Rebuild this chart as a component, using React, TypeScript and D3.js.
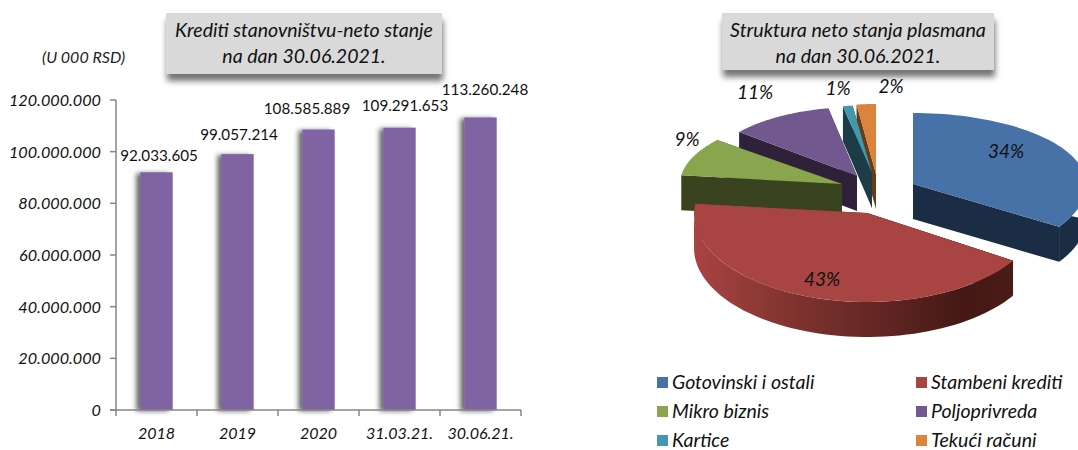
import React from "react";
import * as d3 from "d3";

const barCategories = ["2018", "2019", "2020", "31.03.21.", "30.06.21."];
const barValues = [92033605, 99057214, 108585889, 109291653, 113260248];
const barTicks = [0, 20000000, 40000000, 60000000, 80000000, 100000000, 120000000];

const pieNames = ["Gotovinski i ostali", "Stambeni krediti", "Mikro biznis", "Poljoprivreda", "Kartice", "Tekući računi"];
const pieValues = [34, 43, 9, 11, 1, 2];
const pieColors = ["#4672a8", "#a84442", "#89a54e", "#71588f", "#4198af", "#db843d"];
const pieWalls = ["#1b2d45", "#4a1c18", "#3a431f", "#2e2139", "#1c3d47", "#6a3a12"];

const FONT = "Lato, 'Open Sans', sans-serif";
const fmt = (v: number) => d3.format(",")(v).replace(/,/g, ".");

// slice geometry: apex position and radii after the explosion
const sliceGeom = [
  { cx: 913, cy: 184, rx: 173, back: 71, front: 80 },
  { cx: 867, cy: 213, rx: 173, back: 72, front: 89 },
  { cx: 842, cy: 184, rx: 162, back: 69, front: 69 },
  { cx: 857, cy: 176, rx: 153, back: 69, front: 69 },
  { cx: 872, cy: 173, rx: 155, back: 68, front: 68 },
  { cx: 876, cy: 174, rx: 155, back: 70, front: 70 },
];
const DEPTH = 35;

type G = (typeof sliceGeom)[number];
const pt = (g: G, a: number): [number, number] => {
  const c = Math.cos(a);
  return [g.cx + g.rx * Math.sin(a), g.cy - c * (c > 0 ? g.back : g.front)];
};
const arcPts = (g: G, a0: number, a1: number) =>
  d3.range(0, 61).map((i) => pt(g, a0 + ((a1 - a0) * i) / 60));
const line = d3.line();

function Slice({ i, a0, a1 }: { i: number; a0: number; a1: number }) {
  const g = sliceGeom[i];
  const apex: [number, number] = [g.cx, g.cy];
  const down = (p: [number, number]): [number, number] => [p[0], p[1] + DEPTH];
  const top = [apex, ...arcPts(g, a0, a1)] as [number, number][];
  const wall = (p: [number, number]) => line([apex, p, down(p), down(apex)] as [number, number][]) + "Z";
  const lo = Math.max(a0, Math.PI / 2);
  const hi = Math.min(a1, (3 * Math.PI) / 2);
  const outer = hi > lo ? arcPts(g, lo, hi) : null;
  const outerFill = i === 1 ? "url(#redWall)" : pieWalls[i];
  return (
    <g>
      <path d={wall(pt(g, a0))} fill={outerFill} />
      <path d={wall(pt(g, a1))} fill={outerFill} />
      {outer && (
        <path
          d={line([apex, ...outer, ...outer.slice().reverse().map(down)] as [number, number][]) + "Z"}
          fill={outerFill}
        />
      )}
      <path d={line(top) + "Z"} fill={pieColors[i]} />
    </g>
  );
}

function TitleBox({ x, y, w, h, size, lines }: { x: number; y: number; w: number; h: number; size: number; lines: string[] }) {
  return (
    <g>
      <rect x={x} y={y} width={w} height={h} fill="#d9d9d9" filter="url(#boxShadow)" />
      {lines.map((t, i) => (
        <text key={i} x={x + w / 2} y={y + 24 + i * 26} textAnchor="middle" fontSize={size} fontStyle="italic" fill="#111">
          {t}
        </text>
      ))}
    </g>
  );
}

const pieLabels = [
  { x: 1006, y: 158 },
  { x: 822, y: 286 },
  { x: 687, y: 146 },
  { x: 755, y: 99 },
  { x: 838, y: 95 },
  { x: 891, y: 93 },
];
const barLabelX = [159, 239, 307, 405, 485];
const barLabelLift = [11.5, 14.5, 15, 17, 22.5];

export default function App() {
  const x = d3.scaleBand<string>().domain(barCategories).range([116, 521]).paddingInner(0.6).paddingOuter(0.3);
  const y = d3.scaleLinear().domain([0, 120000000]).range([410, 100]);
  const axis = "#868686";
  const step = x.step();
  const arcs = d3.pie<number>().sort(null)(pieValues);
  const drawOrder = [5, 4, 3, 2, 0, 1];
  const legendCols = [657, 916];
  const legendRows = [384, 413, 442];

  return (
    <svg
      width={1078}
      height={450}
      style={{ position: "absolute", left: 0, top: 0, background: "#fff", overflow: "hidden" }}
      fontFamily={FONT}
    >
      <defs>
        <filter id="boxShadow" x="-10%" y="-20%" width="120%" height="150%">
          <feDropShadow dx="1" dy="7" stdDeviation="3" floodColor="#000" floodOpacity="0.55" />
        </filter>
        <filter id="barShadow" x="-50%" y="-5%" width="160%" height="110%">
          <feDropShadow dx="-4" dy="1" stdDeviation="2.5" floodColor="#000" floodOpacity="0.6" />
        </filter>
        <linearGradient id="redWall" gradientUnits="userSpaceOnUse" x1={696} x2={1014} y1={0} y2={0}>
          <stop offset="0" stopColor="#a84442" />
          <stop offset="0.3" stopColor="#80332f" />
          <stop offset="0.6" stopColor="#5f2522" />
          <stop offset="0.85" stopColor="#441814" />
          <stop offset="1" stopColor="#4a1c18" />
        </linearGradient>
      </defs>

      <TitleBox x={166} y={13} w={276} h={61} size={19.5} lines={["Krediti stanovništvu-neto stanje", "na dan 30.06.2021."]} />
      <TitleBox x={722} y={13} w={272} h={57} size={19.7} lines={["Struktura neto stanja plasmana", "na dan 30.06.2021."]} />
      <text x={42} y={63} fontSize={16} fontStyle="italic" fill="#222">(U 000 RSD)</text>

      {barValues.map((v, i) => (
        <rect
          key={i}
          x={x(barCategories[i])}
          y={y(v)}
          width={x.bandwidth()}
          height={y(0) - y(v)}
          fill="#8064a2"
          filter="url(#barShadow)"
        />
      ))}
      <line x1={116} x2={116} y1={100} y2={410} stroke={axis} strokeWidth={1.5} />
      <line x1={110} x2={521} y1={410} y2={410} stroke={axis} strokeWidth={1.5} />
      {barTicks.map((t) => (
        <g key={t}>
          <line x1={110} x2={116} y1={y(t)} y2={y(t)} stroke={axis} strokeWidth={1.5} />
          <text x={101} y={y(t) + 6} textAnchor="end" fontSize={16.2} fontStyle="italic" fill="#111">
            {fmt(t)}
          </text>
        </g>
      ))}
      {barCategories.map((c, i) => (
        <g key={c}>
          <line x1={116 + step * i} x2={116 + step * i} y1={410} y2={416} stroke={axis} strokeWidth={1.5} />
          {i === barCategories.length - 1 && (
            <line x1={521} x2={521} y1={410} y2={416} stroke={axis} strokeWidth={1.5} />
          )}
          <text x={x(c)! + x.bandwidth() / 2} y={439} textAnchor="middle" fontSize={16} fontStyle="italic" fill="#111">
            {c}
          </text>
        </g>
      ))}
      {barValues.map((v, i) => (
        <text key={i} x={barLabelX[i]} y={y(v) - barLabelLift[i]} textAnchor="middle" fontSize={15.2} fill="#111">
          {fmt(v)}
        </text>
      ))}

      {drawOrder.map((i) => (
        <Slice key={i} i={i} a0={arcs[i].startAngle} a1={arcs[i].endAngle} />
      ))}
      {pieValues.map((v, i) => (
        <text key={i} x={pieLabels[i].x} y={pieLabels[i].y} textAnchor="middle" fontSize={19} fontStyle="italic" fill="#111">
          {v}%
        </text>
      ))}

      {pieNames.map((n, i) => (
        <g key={n}>
          <rect x={legendCols[i % 2]} y={legendRows[Math.floor(i / 2)] - 7} width={11} height={11} fill={pieColors[i]} />
          <text x={legendCols[i % 2] + 15} y={legendRows[Math.floor(i / 2)] + 5} fontSize={19.5} fontStyle="italic" fill="#111">
            {n}
          </text>
        </g>
      ))}
    </svg>
  );
}
